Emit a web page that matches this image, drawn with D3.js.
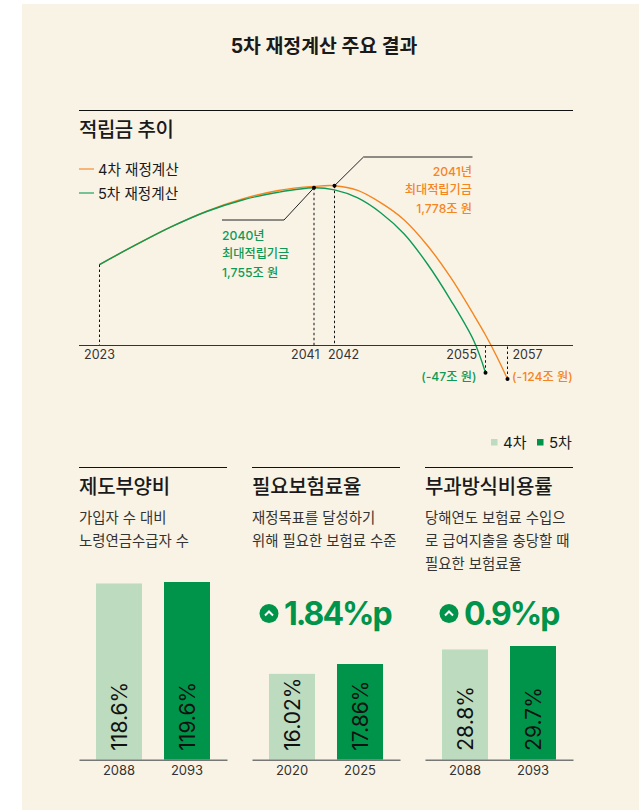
<!DOCTYPE html>
<html lang="ko">
<head>
<meta charset="utf-8">
<script src="https://d3js.org/d3.v7.min.js"></script>
<style>
  html, body { margin: 0; padding: 0; background: #fff; }
  svg { display: block; }
  text { font-family: Inter, "Noto Sans CJK KR", sans-serif; }
</style>
</head>
<body>
<div id="chart"></div>
<script>
// Line chart data (the end points sit below the axis as drawn)
var years4 = [2023, 2026, 2029, 2032, 2035, 2038, 2041, 2042, 2044, 2046, 2048, 2050, 2052, 2054, 2055, 2056, 2057];
var values4 = [901, 1116, 1319, 1495, 1630, 1725, 1770, 1778, 1725, 1586, 1397, 1113, 757, 339, 117, -117, -373];
var years5 = [2023, 2026, 2029, 2032, 2035, 2038, 2041, 2042, 2044, 2046, 2048, 2050, 2052, 2054, 2055];
var values5 = [901, 1116, 1319, 1491, 1619, 1705, 1755, 1731, 1642, 1475, 1241, 907, 506, 50, -303];
var yearTicks = [2023, 2041, 2042, 2055, 2057];
var seriesNames = ["4차 재정계산", "5차 재정계산"];

// Bar panels
var panelTitles = ["제도부양비", "필요보험료율", "부과방식비용률"];
var panelDescs = [
  ["가입자 수 대비", "노령연금수급자 수"],
  ["재정목표를 달성하기", "위해 필요한 보험료 수준"],
  ["당해연도 보험료 수입으", "로 급여지출을 충당할 때", "필요한 보험료율"]
];
var panelYears = [["2088", "2093"], ["2020", "2025"], ["2088", "2093"]];
var panelValues = [[118.6, 119.6], [16.02, 17.86], [28.8, 29.7]];
var panelLabels = [["118.6%", "119.6%"], ["16.02%", "17.86%"], ["28.8%", "29.7%"]];
var panelDeltas = [null, "1.84%p", "0.9%p"];
var barLegend = ["4차", "5차"];

// Colors
var bg = "#F9F3E6";
var orange = "#F5851F";
var green = "#0E9A56";
var barLight = "#BDDBBF";
var barDark = "#00944A";
var ink = "#1a1a1a";

var svgWidth = 639;
var svgHeight = 810;

var svg = d3.select("#chart")
  .append("svg")
  .attr("width", svgWidth)
  .attr("height", svgHeight);

svg.append("rect")
  .attr("x", 22)
  .attr("y", 4)
  .attr("width", svgWidth - 22)
  .attr("height", svgHeight - 4)
  .attr("fill", bg);

svg.append("text")
  .attr("x", 324)
  .attr("y", 52.5)
  .attr("text-anchor", "middle")
  .attr("font-size", 19.4)
  .attr("font-weight", 700)
  .attr("fill", ink)
  .text("5차 재정계산 주요 결과");

// Line chart section
svg.append("line")
  .attr("x1", 79).attr("x2", 573)
  .attr("y1", 110.5).attr("y2", 110.5)
  .attr("stroke", "#111")
  .attr("stroke-width", 1.2);

svg.append("text")
  .attr("x", 79)
  .attr("y", 137)
  .attr("font-size", 20)
  .attr("font-weight", 500)
  .attr("letter-spacing", -0.5)
  .attr("fill", ink)
  .text("적립금 추이");

// The axis is not evenly spaced in the original, so the x scale is piecewise
var xScale = d3.scaleLinear()
  .domain([2023, 2041, 2042, 2055, 2057])
  .range([99.5, 314, 334.5, 485.5, 507.5]);

var yScale = d3.scaleLinear()
  .domain([0, 1778])
  .range([345.5, 185.7]);

var lineGen = d3.line()
  .x(d => xScale(d[0]))
  .y(d => yScale(d[1]))
  .curve(d3.curveCatmullRom.alpha(0.5));

var line4 = d3.zip(years4, values4);
var line5 = d3.zip(years5, values5);

svg.append("path")
  .attr("d", lineGen(line4))
  .attr("fill", "none")
  .attr("stroke", orange)
  .attr("stroke-width", 1.4);

svg.append("path")
  .attr("d", lineGen(line5))
  .attr("fill", "none")
  .attr("stroke", green)
  .attr("stroke-width", 1.4);

// Dotted drop lines
var drops = [
  [2023, values5[0]],
  [2041, values5[years5.indexOf(2041)]],
  [2042, values4[years4.indexOf(2042)]],
  [2055, values5[years5.indexOf(2055)]],
  [2057, values4[years4.indexOf(2057)]]
];

svg.selectAll("line.drop")
  .data(drops)
  .enter().append("line")
  .attr("class", "drop")
  .attr("x1", d => xScale(d[0]))
  .attr("x2", d => xScale(d[0]))
  .attr("y1", d => yScale(d[1]))
  .attr("y2", yScale(0))
  .attr("stroke", "#111")
  .attr("stroke-width", 1)
  .attr("stroke-dasharray", "2.5,2.5");

// Axis with custom label placement per tick
var xAxis = d3.axisBottom(xScale)
  .tickValues(yearTicks)
  .tickFormat(d3.format("d"))
  .tickSize(0)
  .tickPadding(5);

var axisG = svg.append("g")
  .attr("transform", `translate(0, ${yScale(0)})`)
  .call(xAxis);

axisG.select(".domain").remove();
axisG.selectAll("text")
  .attr("font-size", 12.5)
  .attr("fill", "#333")
  .attr("font-family", "Inter")
  .attr("text-anchor", d => d === 2055 || d === 2041 ? "end" : d === 2023 ? "middle" : "start")
  .attr("dx", d => d === 2041 ? 5 : d === 2042 ? -7 : d === 2055 ? -9 : d === 2057 ? 4.5 : -0.5);

svg.append("line")
  .attr("x1", 79).attr("x2", 573)
  .attr("y1", yScale(0)).attr("y2", yScale(0))
  .attr("stroke", "#333")
  .attr("stroke-width", 1);

// Callout leader lines
var leader = d3.line();
svg.append("path")
  .attr("d", leader([
    [xScale(2041), yScale(1755)],
    [xScale(2041) - 30, 220],
    [xScale(2041) - 92, 220]
  ]))
  .attr("fill", "none")
  .attr("stroke", "#222")
  .attr("stroke-width", 1);

svg.append("path")
  .attr("d", leader([
    [xScale(2042), yScale(1778)],
    [xScale(2042) + 29, 157],
    [xScale(2042) + 138, 157]
  ]))
  .attr("fill", "none")
  .attr("stroke", "#222")
  .attr("stroke-width", 1);

var dots = [[2041, 1755], [2042, 1778], drops[3], drops[4]];
svg.selectAll("circle.dot")
  .data(dots)
  .enter().append("circle")
  .attr("class", "dot")
  .attr("cx", d => xScale(d[0]))
  .attr("cy", d => yScale(d[1]))
  .attr("r", 2)
  .attr("fill", "#000");

// Callout texts
function textLines(lines, x, firstY, anchor, color) {
  svg.selectAll(null)
    .data(lines)
    .enter().append("text")
    .attr("x", x)
    .attr("y", (d, i) => firstY + i * 18.5)
    .attr("text-anchor", anchor)
    .attr("font-size", 12.2)
    .attr("font-weight", 500)
    .attr("fill", color)
    .text(d => d);
}

textLines(["2040년", "최대적립기금", "1,755조 원"], 222, 239.5, "start", green);
textLines(["2041년", "최대적립기금", "1,778조 원"], 472, 175.5, "end", orange);
textLines(["(-47조 원)"], 476.5, 380.5, "end", green);
textLines(["(-124조 원)"], 512, 380.5, "start", orange);

// Line legend
var legend = svg.selectAll("g.legend")
  .data(seriesNames)
  .enter().append("g")
  .attr("class", "legend")
  .attr("transform", (d, i) => `translate(79, ${169 + i * 24})`);

legend.append("line")
  .attr("x2", 15)
  .attr("stroke", (d, i) => i === 0 ? orange : green)
  .attr("stroke-opacity", 0.8)
  .attr("stroke-width", 1.4);

legend.append("text")
  .attr("x", 19)
  .attr("y", 5.5)
  .attr("font-size", 14.6)
  .attr("fill", ink)
  .text(d => d);

// Bar legend
var barLegendG = svg.selectAll("g.barlegend")
  .data(barLegend)
  .enter().append("g")
  .attr("class", "barlegend")
  .attr("transform", (d, i) => `translate(${491 + i * 46}, 439)`);

barLegendG.append("rect")
  .attr("width", 6.5)
  .attr("height", 6.5)
  .attr("fill", (d, i) => i === 0 ? barLight : barDark);

barLegendG.append("text")
  .attr("x", 12)
  .attr("y", 9)
  .attr("font-size", 15)
  .attr("fill", ink)
  .text(d => d);

// Bar panels
var panelLeft = [79, 252, 425];
var panelWidth = 148;
var barBase = 759.7;
var barTops = [582, 664, 646];
var deltaIconX = [null, 269, 449];

panelTitles.forEach(function(title, p) {
  var g = svg.append("g")
    .attr("transform", `translate(${panelLeft[p]}, 0)`);

  g.append("line")
    .attr("x2", panelWidth)
    .attr("y1", 467.5).attr("y2", 467.5)
    .attr("stroke", "#111")
    .attr("stroke-width", 1.2);

  g.append("text")
    .attr("y", 494)
    .attr("font-size", 20)
    .attr("font-weight", 500)
    .attr("letter-spacing", -0.2)
    .attr("fill", ink)
    .text(title);

  g.selectAll("text.desc")
    .data(panelDescs[p])
    .enter().append("text")
    .attr("class", "desc")
    .attr("y", (d, i) => 522.5 + i * 23)
    .attr("font-size", 14.4)
    .attr("fill", "#333")
    .text(d => d);

  var x = d3.scaleBand()
    .domain(panelYears[p])
    .range([0, panelWidth])
    .paddingInner(0.3235)
    .paddingOuter(0.25);

  var y = d3.scaleLinear()
    .domain([0, d3.max(panelValues[p])])
    .range([barBase, barTops[p]]);

  g.selectAll("rect.bar")
    .data(panelValues[p])
    .enter().append("rect")
    .attr("class", "bar")
    .attr("x", (d, i) => x(panelYears[p][i]))
    .attr("y", d => y(d))
    .attr("width", x.bandwidth())
    .attr("height", d => y(0) - y(d))
    .attr("fill", (d, i) => i === 0 ? barLight : barDark);

  var axis = d3.axisBottom(x).tickSize(0).tickPadding(6);
  var axG = g.append("g")
    .attr("transform", `translate(0, ${barBase})`)
    .call(axis);
  axG.select(".domain")
    .attr("stroke", "#777")
    .attr("stroke-width", 1.4);
  axG.selectAll("text")
    .attr("font-size", 13)
    .attr("font-family", "Inter")
    .attr("fill", "#333");

  g.selectAll("text.val")
    .data(panelLabels[p])
    .enter().append("text")
    .attr("class", "val")
    .attr("transform", (d, i) => `translate(${x(panelYears[p][i]) + x.bandwidth() / 2}, ${barBase - 9}) rotate(-90)`)
    .attr("dy", "0.36em")
    .attr("font-size", 21)
    .attr("fill", "#111")
    .text(d => d);

  // Change badge above the bars
  if (panelDeltas[p]) {
    var cx = deltaIconX[p] - panelLeft[p];
    g.append("circle")
      .attr("cx", cx)
      .attr("cy", 613.5)
      .attr("r", 9.5)
      .attr("fill", barDark);
    g.append("path")
      .attr("d", d3.line()([[cx - 4, 615.5], [cx, 611.5], [cx + 4, 615.5]]))
      .attr("fill", "none")
      .attr("stroke", "#fff")
      .attr("stroke-width", 2);
    g.append("text")
      .attr("x", cx + 15)
      .attr("y", 625)
      .attr("font-size", 32)
      .attr("font-weight", 700)
      .attr("letter-spacing", -2)
      .attr("fill", barDark)
      .text(panelDeltas[p]);
  }
});
</script>
</body>
</html>
